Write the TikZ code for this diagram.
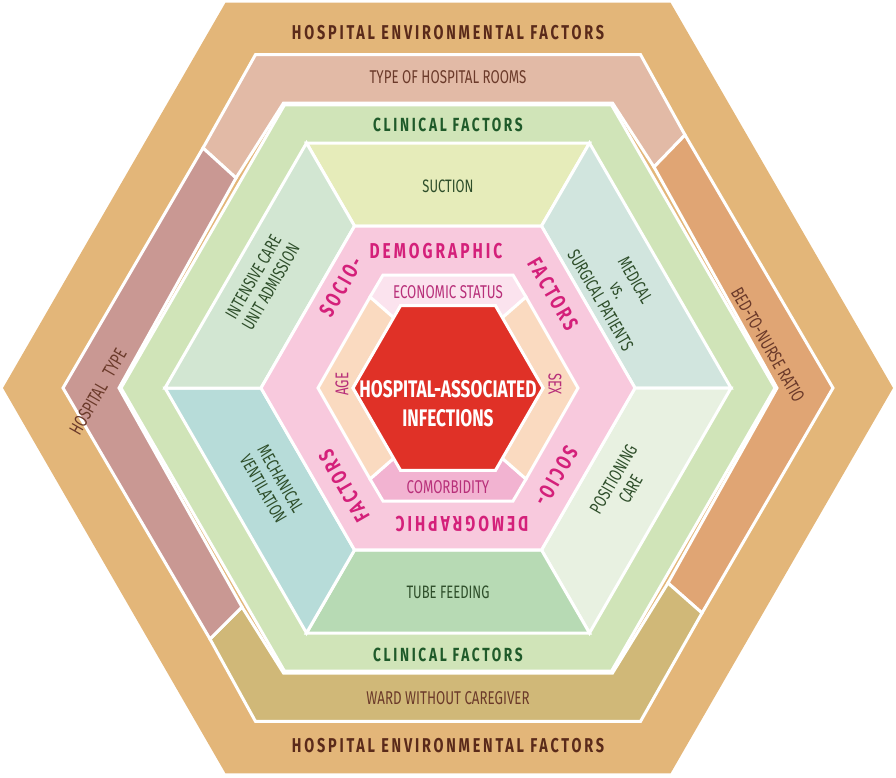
\documentclass[tikz,border=0pt]{standalone}
\usepackage{fontspec}
\setmainfont{Fira Sans}[FakeStretch=0.72]
\newfontfamily\spaced{Fira Sans}[FakeStretch=0.72,LetterSpace=14]
\definecolor{ctan}{HTML}{E3B679}
\definecolor{ctop}{HTML}{E2BAA6}
\definecolor{cright}{HTML}{E0A574}
\definecolor{cbot}{HTML}{D0B878}
\definecolor{cleft}{HTML}{C99893}
\definecolor{cgreen}{HTML}{D0E4B8}
\definecolor{csuc}{HTML}{E6ECBA}
\definecolor{cmed}{HTML}{D1E5DE}
\definecolor{cpos}{HTML}{E8F1E1}
\definecolor{ctube}{HTML}{B7DAB4}
\definecolor{cmech}{HTML}{B7DCD9}
\definecolor{cicu}{HTML}{D2E6D2}
\definecolor{cpink}{HTML}{F8C9DD}
\definecolor{cecon}{HTML}{FBE3EE}
\definecolor{ccomo}{HTML}{F2B3D1}
\definecolor{cage}{HTML}{FADAC0}
\definecolor{cred}{HTML}{E03127}
\definecolor{tbrown}{HTML}{5A2A1A}
\definecolor{tbrown2}{HTML}{6B3A2A}
\definecolor{tgreen}{HTML}{1F5A2A}
\definecolor{tgreen2}{HTML}{2E4E2A}
\definecolor{tmag}{HTML}{D4207A}
\definecolor{tmag2}{HTML}{B8307A}
\newcommand{\hexR}[1]{({448-#1},388) -- ({448-#1/2},{388-0.866*#1}) -- ({448+#1/2},{388-0.866*#1}) -- ({448+#1},388) -- ({448+#1/2},{388+0.866*#1}) -- ({448-#1/2},{388+0.866*#1}) -- cycle}
\begin{document}
\begin{tikzpicture}[x=1pt,y=-1pt,
  seg/.style={draw=white,line width=3pt,line join=miter},
  title/.style={font=\spaced\bfseries\fontsize{20}{21}\selectfont,text=tbrown},
  sub/.style={font=\fontsize{18.5}{19}\selectfont,text=tbrown2,align=center},
  clin/.style={font=\spaced\bfseries\fontsize{19}{20}\selectfont,text=tgreen},
  ctext/.style={font=\fontsize{18}{20}\selectfont,text=tgreen2,align=center},
  soc/.style={font=\spaced\bfseries\fontsize{21.5}{22}\selectfont,text=tmag},
  itext/.style={font=\fontsize{18.5}{19}\selectfont,text=tmag2}]
\useasboundingbox (0,0) rectangle (896,777);
% outer
\fill[ctan] \hexR{445};
% ring of environmental bands
\fill[ctop,seg] (203,148) -- (255.5,54.6) -- (640.5,54.6) -- (685,135) -- (654,167) -- (612.5,103) -- (283.5,103) -- (236,178) -- cycle;
\fill[cright,seg] (685,135) -- (833,388) -- (702,613) -- (668,583) -- (777,388) -- (654,167) -- cycle;
\fill[cbot,seg] (702,613) -- (640.5,721.4) -- (255.5,721.4) -- (210,639) -- (242,607) -- (283.5,673) -- (612.5,673) -- (668,583) -- cycle;
\fill[cleft,seg] (210,639) -- (63,388) -- (203,148) -- (236,178) -- (119,388) -- (242,607) -- cycle;
% green
\fill[cgreen,seg] \hexR{327};
% clinical sectors
\fill[csuc,seg] (306.5,143) -- (589.5,143) -- (541.5,226) -- (354.5,226) -- cycle;
\fill[cmed,seg] (589.5,143) -- (731,388) -- (635,388) -- (541.5,226) -- cycle;
\fill[cpos,seg] (731,388) -- (589.5,633) -- (541.5,550) -- (635,388) -- cycle;
\fill[ctube,seg] (589.5,633) -- (306.5,633) -- (354.5,550) -- (541.5,550) -- cycle;
\fill[cmech,seg] (306.5,633) -- (165,388) -- (261,388) -- (354.5,550) -- cycle;
\fill[cicu,seg] (165,388) -- (306.5,143) -- (354.5,226) -- (261,388) -- cycle;
% pink
\fill[cpink,seg] \hexR{187};
% inner bands
\fill[cecon,seg] (370,297) -- (383,275) -- (513,275) -- (526,297) -- (502,318) -- (495.5,306) -- (400.5,306) -- (394,318) -- cycle;
\fill[ccomo,seg] (370,479) -- (383,501) -- (513,501) -- (526,479) -- (502,458) -- (495.5,470) -- (400.5,470) -- (394,458) -- cycle;
\fill[cage,seg] (370,297) -- (394,318) -- (353,388) -- (394,458) -- (370,479) -- (318,388) -- cycle;
\fill[cage,seg] (526,297) -- (502,318) -- (543,388) -- (502,458) -- (526,479) -- (578,388) -- cycle;
\fill[cred,seg] \hexR{95};
% texts
\node[title] (t1) at (448,33) {HOSPITAL ENVIRONMENTAL FACTORS};
\node[title] (t2) at (448,746) {HOSPITAL ENVIRONMENTAL FACTORS};
\node[sub] (s1) at (448,77) {TYPE OF HOSPITAL ROOMS};
\node[sub] (s2) at (448,698) {WARD WITHOUT CAREGIVER};
\node[sub,rotate=-60] (s3) at (768,345) {BED-TO-NURSE RATIO};
\node[sub,rotate=60] (s4) at (98,392) {HOSPITAL\enspace TYPE};
\node[clin] (c1) at (448,125) {CLINICAL FACTORS};
\node[clin] (c2) at (448,655) {CLINICAL FACTORS};
\node[ctext] (k1) at (448,186) {SUCTION};
\node[ctext] (k2) at (448,592) {TUBE FEEDING};
\node[ctext,rotate=60] (k3) at (262,282) {INTENSIVE CARE\\UNIT ADMISSION};
\node[ctext,rotate=-60] (k4) at (618,290) {MEDICAL\\vs.\\SURGICAL PATIENTS};
\node[ctext,rotate=-60] (k5) at (272,484) {MECHANICAL\\VENTILATION};
\node[ctext,rotate=60] (k6) at (622,484) {POSITIONING\\CARE};
\node[soc] (p1) at (436,251) {DEMOGRAPHIC};
\node[soc,rotate=60] (p2) at (341,287) {SOCIO-};
\node[soc,rotate=-60] (p3) at (553,294) {FACTORS};
\node[soc,rotate=180] (p4) at (462,524) {DEMOGRAPHIC};
\node[soc,rotate=-120] (p5) at (556,476) {SOCIO-};
\node[soc,rotate=120] (p6) at (344,486) {FACTORS};
\node[itext] (i1) at (448,292) {ECONOMIC STATUS};
\node[itext] (i2) at (448,487) {COMORBIDITY};
\node[itext,rotate=90] (i3) at (342,384) {AGE};
\node[itext,rotate=-90] (i4) at (555,384) {SEX};
\node[font=\bfseries\fontsize{24}{29}\selectfont,text=white,align=center] (hai) at (448,404) {HOSPITAL-ASSOCIATED\\INFECTIONS};
\end{tikzpicture}
\end{document}
